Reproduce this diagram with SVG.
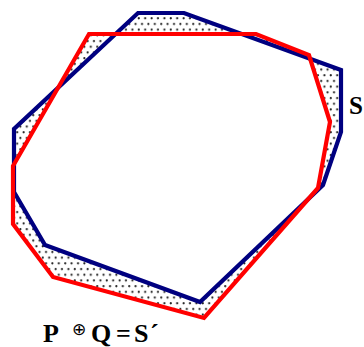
<svg xmlns="http://www.w3.org/2000/svg" width="364" height="347" viewBox="0 0 364 347">
<defs>
<pattern id="dots" patternUnits="userSpaceOnUse" width="6.4" height="11.4">
<circle cx="1.2" cy="1.2" r="1.1" fill="#222"/>
<circle cx="4.4" cy="6.9" r="1.1" fill="#222"/>
</pattern>
</defs>
<style>
.blue{fill:none;stroke:#000080;stroke-width:4.2;stroke-linejoin:miter}
.red{fill:none;stroke:#ff0000;stroke-width:4.2;stroke-linejoin:miter}
.lbl{font-family:"Liberation Serif","Times New Roman",serif;font-weight:bold;fill:#000}
</style>
<rect width="364" height="347" fill="#fff"/>
<g id="dotted-region">
<path fill="url(#dots)" fill-rule="evenodd" d="M138,13 L184,13 L341,70 L341,132 L323,185 L200,302 L45,245 L14,192 L14,129 Z M89,34 L256,34 L309,55 L330,122 L318,188 L204,318 L53,277 L13,224 L13,166 Z"/>
</g>
<g id="polygon-P">
<polygon class="blue" points="138,13 184,13 341,70 341,132 323,185 200,302 45,245 14,192 14,129"/>
</g>
<g id="polygon-Q">
<polygon class="red" points="89,34 256,34 309,55 330,122 318,188 204,318 53,277 13,224 13,166"/>
</g>
<g id="label-S">
<text class="lbl" x="349" y="114" font-size="25">S</text>
</g>
<g id="label-sum">
<text class="lbl" x="43" y="341.5" font-size="26">P</text>
<text x="72" y="334.5" font-size="17" font-family="DejaVu Sans,sans-serif" fill="#000">⊕</text>
<text class="lbl" x="91" y="341.5" font-size="26">Q</text>
<text class="lbl" x="116" y="341.5" font-size="26">=</text>
<text class="lbl" x="134" y="341.5" font-size="26">S</text>
<text class="lbl" x="150" y="341.5" font-size="26">´</text>
</g>
</svg>
